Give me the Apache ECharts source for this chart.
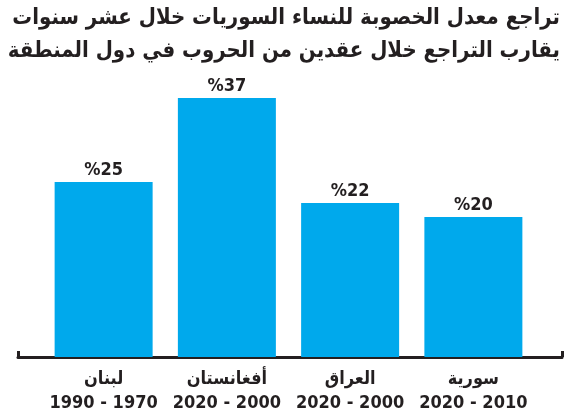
<!DOCTYPE html>
<html>
<head>
<meta charset="utf-8">
<script src="https://cdn.jsdelivr.net/npm/echarts@6/dist/echarts.min.js"></script>
<style>
  html, body { margin: 0; padding: 0; background: #fff; }
  #chart { width: 573px; height: 418px; }
</style>
</head>
<body>
<div id="chart"></div>
<script>
  // data
  const countries = ['لبنان', 'أفغانستان', 'العراق', 'سورية']
  const periods = ['1990 - 1970', '2020 - 2000', '2020 - 2000', '2020 - 2010']
  const rates = [25, 37, 22, 20]
  const titleLines = [
    'تراجع معدل الخصوبة للنساء السوريات خلال عشر سنوات',
    'يقارب التراجع خلال عقدين من الحروب في دول المنطقة'
  ]

  const chart = echarts.init(document.getElementById('chart'))
  const ink = '#231f20'
  const font = '"DejaVu Sans Condensed", "DejaVu Sans", sans-serif'

  const option = {
    animation: false,
    title: titleLines.map((t, i) => ({
      text: t,
      right: 8,
      top: 2 + i * 33,
      textStyle: { fontFamily: font, fontWeight: 'bold', fontSize: 22, color: ink }
    })),
    grid: [
      { left: 42, right: 38, top: 77, bottom: 61 },
      // wider grid just for the long baseline with end ticks
      { left: 18, right: 11, top: 77, bottom: 61 }
    ],
    xAxis: [
      {
        type: 'category',
        gridIndex: 0,
        data: countries.map((c, i) => c + '\n' + periods[i]),
        axisLine: { show: false },
        axisTick: { show: false },
        axisLabel: {
          interval: 0,
          margin: 10,
          fontFamily: font,
          fontWeight: 'bold',
          fontSize: 18,
          lineHeight: 24,
          color: ink
        }
      },
      {
        type: 'value',
        gridIndex: 1,
        min: 0,
        max: 1,
        interval: 1,
        axisLine: { show: true, lineStyle: { color: ink, width: 3 } },
        axisTick: { show: true, inside: true, length: 6, lineStyle: { color: ink, width: 3 } },
        axisLabel: { show: false },
        splitLine: { show: false }
      }
    ],
    yAxis: [
      { type: 'value', gridIndex: 0, min: 0, max: 40, show: false, splitLine: { show: false } },
      { type: 'value', gridIndex: 1, min: 0, max: 40, show: false, splitLine: { show: false } }
    ],
    series: [
      {
        type: 'bar',
        xAxisIndex: 0,
        yAxisIndex: 0,
        data: rates,
        barWidth: 98,
        itemStyle: { color: '#00a9ec' },
        label: {
          show: true,
          position: 'top',
          distance: 3,
          formatter: p => '%' + p.value,
          fontFamily: font,
          fontWeight: 'bold',
          fontSize: 18,
          color: ink
        }
      }
    ]
  }
  chart.setOption(option)
</script>
</body>
</html>
